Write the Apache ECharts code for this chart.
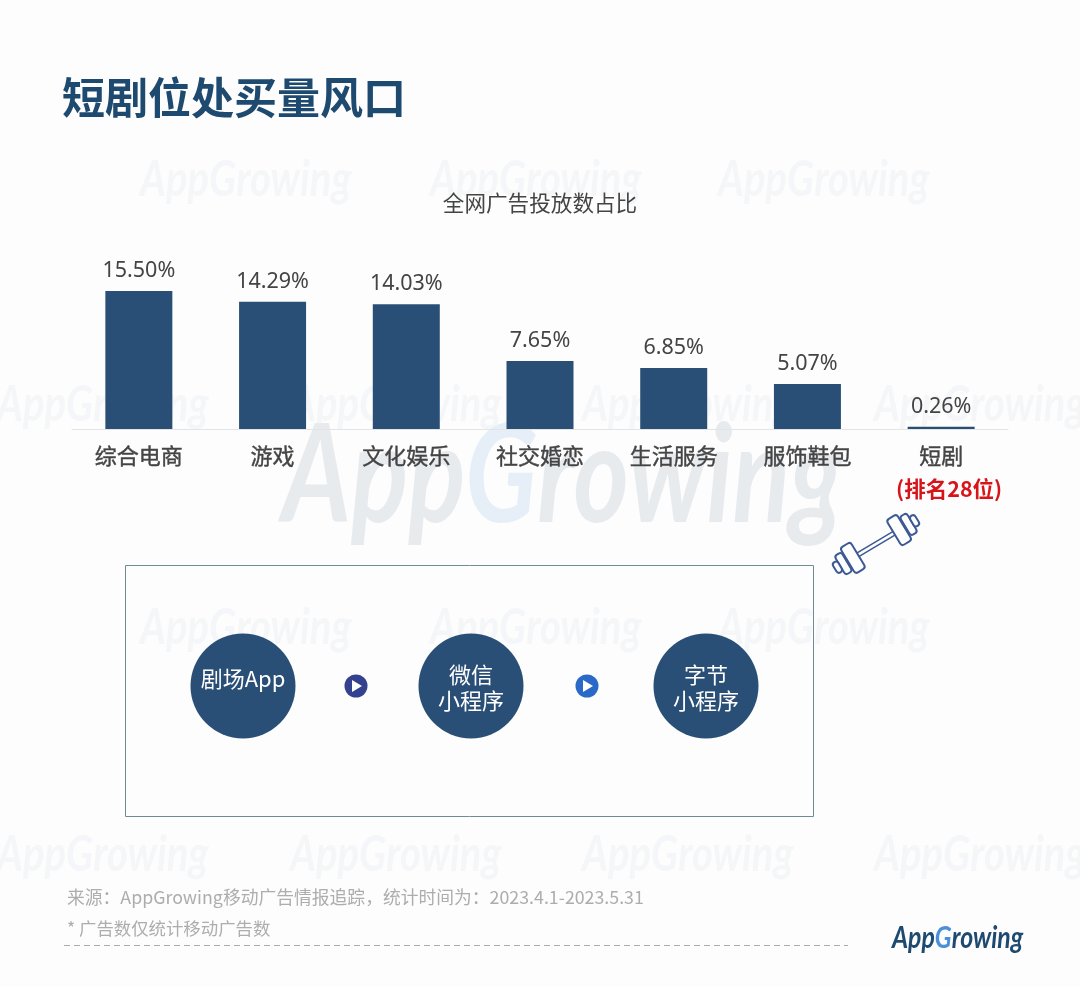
<!DOCTYPE html>
<html>
<head>
<meta charset="utf-8">
<title>短剧位处买量风口</title>
<style>
html, body { margin: 0; padding: 0; background: #fdfdfe; }
#main { width: 1080px; height: 987px; }
</style>
<script src="https://cdn.jsdelivr.net/npm/echarts@6/dist/echarts.min.js"></script>
</head>
<body>
<div id="main"></div>
<script>
var categories = ['综合电商', '游戏', '文化娱乐', '社交婚恋', '生活服务', '服饰鞋包', '短剧'];
var shareValues = [15.50, 14.29, 14.03, 7.65, 6.85, 5.07, 0.26];
var rankNote = '(排名28位)';
var titleText = '短剧位处买量风口';
var subTitleText = '全网广告投放数占比';
var sourceText = '来源：AppGrowing移动广告情报追踪，统计时间为：2023.4.1-2023.5.31';
var noteText = '* 广告数仅统计移动广告数';

var cjk = '"Noto Sans CJK SC", "Noto Sans", sans-serif';
var navy = '#2a4f76';

// 水印文字
function wordMark(x, y, size, scaleX, color, gColor, z) {
	return {
		type: 'text',
		x: x,
		y: y,
		scaleX: scaleX,
		z: z,
		silent: true,
		style: {
			text: '{a|App}{g|G}{a|rowing}',
			verticalAlign: 'middle',
			rich: {
				a: { fontFamily: 'Lato', fontStyle: 'italic', fontWeight: 'bold', fontSize: size, fill: color },
				g: { fontFamily: 'Lato', fontStyle: 'italic', fontWeight: 'bold', fontSize: size, fill: gColor }
			}
		}
	};
}

var graphics = [];
var rowA = [140, 430, 718];
var rowB = [-3, 290, 582, 874];
rowA.forEach(function (x) {
	graphics.push(wordMark(x, 180, 50, 0.8, '#f5f6f7', '#f4f6f9', -2));
	graphics.push(wordMark(x, 628, 50, 0.8, '#f5f6f7', '#f4f6f9', -2));
});
rowB.forEach(function (x) {
	graphics.push(wordMark(x, 405, 50, 0.8, '#f5f6f7', '#f4f6f9', -2));
	graphics.push(wordMark(x, 855, 50, 0.8, '#f5f6f7', '#f4f6f9', -2));
});
graphics.push(wordMark(282, 478, 136, 0.78, '#e8ebee', '#e6eff8', -1));

// 标题
graphics.push({
	type: 'text', x: 62, y: 98,
	style: { text: titleText, fontFamily: cjk, fontWeight: 'bold', fontSize: 43, fill: '#1f4a70', verticalAlign: 'middle' }
});
graphics.push({
	type: 'text', x: 540, y: 203,
	style: { text: subTitleText, fontFamily: cjk, fontSize: 21.6, fill: '#444', align: 'center', verticalAlign: 'middle' }
});

// 杠铃
var plates = [[27, 12, 30], [38, 8, 22], [45, 6, 12]];
var barbell = [{ type: 'rect', shape: { x: -22, y: -2, width: 44, height: 4 }, style: { fill: '#fff', stroke: '#3d5a94', lineWidth: 1.5 } }];
plates.forEach(function (p) {
	[1, -1].forEach(function (side) {
		barbell.push({
			type: 'rect',
			shape: { x: side * p[0] - p[1] / 2, y: -p[2] / 2, width: p[1], height: p[2], r: 3 },
			style: { fill: '#fff', stroke: '#3d5a94', lineWidth: 2 }
		});
	});
});
graphics.push({ type: 'group', x: 876, y: 544, rotation: Math.PI / 180 * 31, children: barbell });

// 流程框
graphics.push({
	type: 'rect',
	shape: { x: 125.5, y: 565.5, width: 688, height: 251 },
	style: { fill: 'transparent', stroke: '#6f8c92', lineWidth: 1 }
});
var flowNodes = [
	{ x: 243, lines: '剧场App', y: 679 },
	{ x: 471, lines: '微信\n小程序', y: 688 },
	{ x: 706, lines: '字节\n小程序', y: 688 }
];
flowNodes.forEach(function (n) {
	graphics.push({ type: 'circle', shape: { cx: n.x, cy: 686, r: 52.5 }, style: { fill: navy } });
	graphics.push({
		type: 'text', x: n.x, y: n.y, z: 1,
		style: { text: n.lines, fontFamily: cjk, fontSize: 22, lineHeight: 26, fill: '#fff', align: 'center', verticalAlign: 'middle' }
	});
});
[[356, '#33418f'], [587, '#2a69c8']].forEach(function (p) {
	graphics.push({ type: 'circle', shape: { cx: p[0], cy: 686, r: 11.5 }, style: { fill: p[1] } });
	graphics.push({
		type: 'polygon', z: 1,
		shape: { points: [[p[0] - 4, 680], [p[0] + 6, 686], [p[0] - 4, 692]] },
		style: { fill: '#fff' }
	});
});

// 底部
graphics.push({
	type: 'text', x: 67, y: 897,
	style: { text: sourceText, fontFamily: cjk, fontSize: 17.8, fill: '#adadad', verticalAlign: 'middle' }
});
graphics.push({
	type: 'text', x: 67, y: 928,
	style: { text: noteText, fontFamily: cjk, fontSize: 17.4, fill: '#adadad', verticalAlign: 'middle' }
});
graphics.push({
	type: 'line',
	shape: { x1: 64, y1: 945.5, x2: 848, y2: 945.5 },
	style: { stroke: '#aaa', lineWidth: 1, lineDash: [6, 4] }
});
graphics.push(wordMark(892, 938, 31, 0.8, '#1f4a70', '#4a90d9', 2));

var chart = echarts.init(document.getElementById('main'));
chart.setOption({
	animation: false,
	backgroundColor: '#fdfdfe',
	grid: { left: 72, right: 72, top: 286.6, height: 142.4 },
	xAxis: {
		type: 'category',
		data: categories,
		axisTick: { show: false },
		axisLine: { lineStyle: { color: '#e2e4e6', width: 1 } },
		axisLabel: {
			interval: 0,
			margin: 10,
			verticalAlign: 'top',
			formatter: function (value) {
				if (value === categories[categories.length - 1]) {
					return '{name|' + value + '}\n{rank|' + rankNote + '}';
				}
				return '{name|' + value + '}';
			},
			rich: {
				name: { fontFamily: cjk, fontSize: 22, color: '#444', lineHeight: 34, textBorderColor: '#444', textBorderWidth: 0.4 },
				rank: { fontFamily: cjk, fontSize: 21.5, fontWeight: 'bold', color: '#d7141a', lineHeight: 32, padding: [0, 0, 0, 16] }
			}
		}
	},
	yAxis: { type: 'value', min: 0, max: 16, show: false },
	series: [{
		type: 'bar',
		data: shareValues,
		barWidth: 67,
		itemStyle: { color: navy },
		label: {
			show: true,
			position: 'top',
			distance: 9,
			fontFamily: '"Noto Sans", sans-serif',
			fontSize: 21.5,
			color: '#444',
			formatter: function (p) { return p.value.toFixed(2) + '%'; }
		}
	}],
	graphic: { elements: graphics }
});
</script>
</body>
</html>
